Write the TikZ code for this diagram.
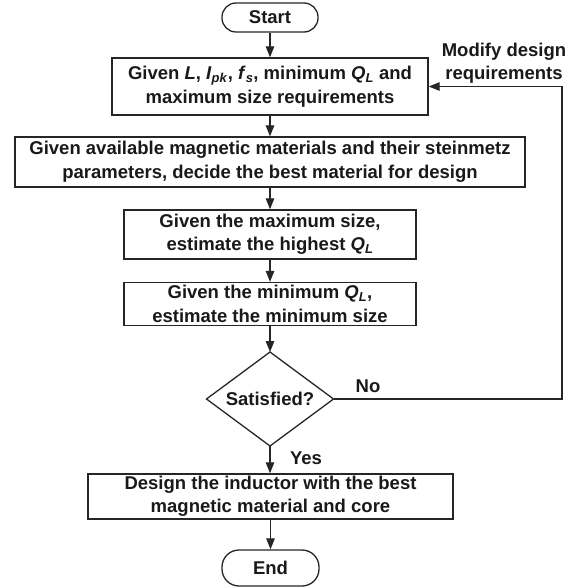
\documentclass[tikz,border=0pt]{standalone}
\usepackage{fontspec}
\setmainfont{Liberation Sans}
\usetikzlibrary{shapes.geometric,arrows.meta}
\newcommand{\iv}[1]{\textit{#1}}
\newcommand{\sbs}[1]{\textsubscript{\textit{#1}}}
\tikzset{
  base/.style={draw=black!85, line width=1.3pt, font=\fontsize{18.5}{23.5}\selectfont\bfseries, align=center, inner sep=0pt, text=black!90},
  procbox/.style={base, rectangle},
  term/.style={base, rectangle, rounded corners=14pt},
  decide/.style={base, diamond, aspect=1.35},
  conn/.style={draw=black!85, line width=1.2pt, -{Triangle[length=11pt,width=8.5pt]}},
  lbl/.style={font=\fontsize{18.5}{23.5}\selectfont\bfseries, align=center, inner sep=0pt, text=black!90}
}
\begin{document}
\begin{tikzpicture}[x=1pt,y=-1pt]
\useasboundingbox (0,0) rectangle (576,588);
\node[term, minimum width=96pt, minimum height=29pt] (start) at (270,17.5) {Start};
\node[procbox, minimum width=316pt, minimum height=57pt] (b1) at (270,86.5)
  {Given \iv{L}, \iv{I}\sbs{pk}, \iv{f}\sbs{s}, minimum \iv{Q}\sbs{L} and\\maximum size requirements};
\node[procbox, minimum width=510pt, minimum height=50pt] (b2) at (270,162)
  {Given available magnetic materials and their steinmetz\\parameters, decide the best material for design};
\node[procbox, minimum width=292pt, minimum height=49pt] (b3) at (270,234.5)
  {Given the maximum size,\\estimate the highest \iv{Q}\sbs{L}};
\node[procbox, minimum width=292pt, minimum height=43pt] (b4) at (270,304)
  {Given the minimum \iv{Q}\sbs{L},\\estimate the minimum size};
\draw[base] (206.5,399) coordinate (dw) -- (270,352) coordinate (dn) -- (333.5,399) coordinate (de) -- (270,446) coordinate (ds) -- cycle;
\node[lbl] (sat) at (270,399) {Satisfied?};
\node[procbox, minimum width=365pt, minimum height=45pt] (b5) at (270.5,496.5)
  {Design the inductor with the best\\magnetic material and core};
\node[term, minimum width=97pt, minimum height=36pt, rounded corners=17pt] (end) at (270.5,568) {End};
\node[lbl] (no) at (368,386) {No};
\node[lbl] (yes) at (306,458) {Yes};
\node[lbl] (mod) at (504,63) {Modify design\\requirements};
\coordinate (rt) at (562,399);
\coordinate (rb) at (562,86.5);
\draw[conn] (start) -- (b1);
\draw[conn] (b1) -- (b2);
\draw[conn] (b2) -- (b3);
\draw[conn] (b3) -- (b4);
\draw[conn] (b4.south) -- (dn);
\draw[conn] (ds) -- (b5.north -| ds);
\draw[conn] (b5.south -| end) -- (end);
\draw[conn] (de) -- (rt) -- (rb) -- (b1.east);
\end{tikzpicture}
\end{document}
